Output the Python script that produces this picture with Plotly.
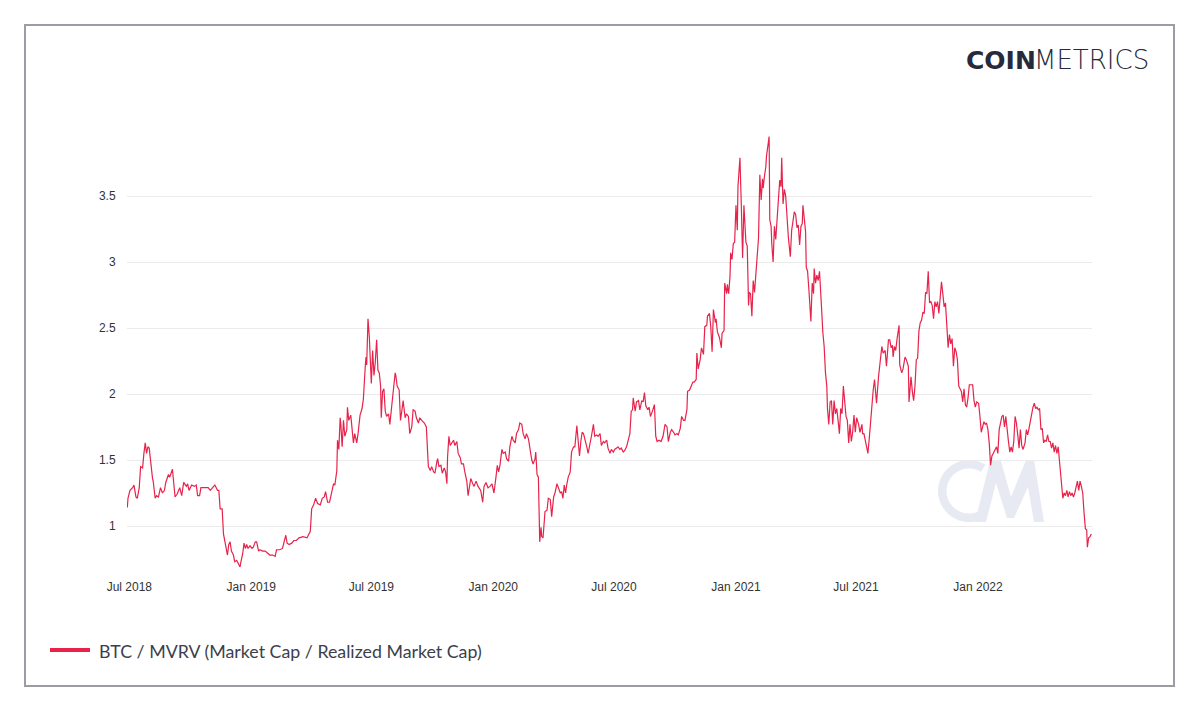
import math
import pandas as pd
import plotly.graph_objects as go

# ---------------- data ----------------
START = "2018-07-01"          # day 0 of the day offsets below
SERIES_NAME = "BTC / MVRV (Market Cap / Realized Market Cap)"

# Jul 2018 - Mar 2019
days_a = [-3, -2, 1, 5, 7, 10, 12, 15, 17, 20, 22, 24, 26, 28, 30, 32, 35, 36, 39, 41,
          44, 47, 50, 53, 55, 59, 61, 65, 67, 69, 72, 76, 79, 82, 86, 88, 90, 94, 98, 101,
          103, 106, 108, 114, 119, 122, 126, 129, 133, 135, 137, 140, 142, 144, 146, 148, 150, 152, 154, 157,
          159, 162, 164, 167, 168, 171, 173, 175, 177, 179, 182, 185, 187, 190, 192, 195, 197, 201, 205, 208,
          212, 216, 220, 222, 227, 231, 233, 236, 238, 241, 245, 248, 252, 256]
mvrv_a = [1.14, 1.21, 1.27, 1.29, 1.31, 1.22, 1.21, 1.29, 1.45, 1.44, 1.55, 1.63, 1.55, 1.60, 1.59, 1.48, 1.36, 1.34, 1.21, 1.23,
          1.22, 1.29, 1.25, 1.27, 1.33, 1.39, 1.37, 1.43, 1.30, 1.22, 1.24, 1.29, 1.23, 1.33, 1.30, 1.32, 1.27, 1.31, 1.30, 1.31,
          1.23, 1.23, 1.29, 1.29, 1.29, 1.27, 1.29, 1.31, 1.27, 1.27, 1.13, 1.13, 0.94, 0.89, 0.83, 0.78, 0.86, 0.88, 0.81, 0.78,
          0.73, 0.74, 0.72, 0.69, 0.72, 0.79, 0.87, 0.83, 0.86, 0.83, 0.85, 0.83, 0.84, 0.88, 0.88, 0.81, 0.82, 0.81, 0.81, 0.80,
          0.78, 0.78, 0.77, 0.82, 0.82, 0.83, 0.87, 0.93, 0.87, 0.86, 0.87, 0.89, 0.89, 0.91]

# Mar 2019 - Dec 2019
days_b = [262, 268, 273, 275, 278, 281, 284, 288, 291, 294, 296, 299, 302, 305, 308, 310, 313, 314, 316, 318,
          319, 321, 323, 325, 328, 329, 331, 334, 338, 340, 343, 345, 348, 351, 353, 356, 357, 358, 360, 362,
          363, 365, 367, 369, 371, 373, 375, 377, 379, 380, 382, 384, 386, 388, 391, 393, 396, 398, 401, 402,
          404, 407, 409, 411, 413, 416, 418, 421, 423, 426, 428, 431, 433, 436, 438, 441, 445, 448, 449, 451,
          454, 456, 459, 461, 464, 465, 467, 470, 472, 475, 477, 479, 480, 482, 484, 486, 489, 491, 494, 496,
          499, 501, 504, 506, 509, 511, 513, 515, 518, 520]
mvrv_b = [0.92, 0.91, 0.96, 1.13, 1.16, 1.21, 1.17, 1.16, 1.21, 1.22, 1.26, 1.18, 1.18, 1.26, 1.32, 1.31, 1.42, 1.65, 1.58, 1.82,
          1.77, 1.60, 1.80, 1.68, 1.73, 1.90, 1.80, 1.84, 1.63, 1.70, 1.63, 1.70, 1.84, 1.89, 1.96, 2.22, 2.28, 2.22, 2.57, 2.43,
          2.26, 2.08, 2.33, 2.14, 2.24, 2.41, 2.18, 2.16, 2.06, 1.82, 2.02, 2.04, 1.87, 1.83, 1.85, 1.77, 1.92, 2.02, 2.16, 2.14,
          2.06, 2.03, 1.80, 1.87, 1.95, 1.82, 1.85, 1.83, 1.70, 1.75, 1.88, 1.87, 1.82, 1.78, 1.82, 1.80, 1.78, 1.75, 1.60, 1.45,
          1.42, 1.45, 1.41, 1.40, 1.49, 1.51, 1.45, 1.46, 1.40, 1.44, 1.41, 1.32, 1.52, 1.68, 1.61, 1.63, 1.65, 1.61, 1.64, 1.55,
          1.52, 1.47, 1.47, 1.41, 1.34, 1.23, 1.30, 1.36, 1.32, 1.30]

# Dec 2019 - Dec 2020
days_c = [523, 526, 530, 533, 535, 538, 541, 544, 547, 550, 553, 555, 557, 559, 562, 564, 567, 569, 572, 574,
          577, 579, 582, 584, 587, 589, 592, 594, 597, 599, 602, 604, 607, 609, 612, 613, 615, 617, 618, 619,
          621, 622, 624, 627, 630, 632, 635, 637, 640, 642, 645, 647, 650, 652, 654, 656, 658, 660, 662, 665,
          667, 670, 672, 675, 677, 679, 681, 683, 685, 688, 690, 692, 695, 697, 700, 702, 705, 707, 710, 712,
          715, 717, 720, 722, 725, 727, 730, 732, 735, 737, 740, 742, 745, 747, 750, 752, 755, 757, 759, 760,
          763, 765, 768, 770, 773, 775, 777, 779, 782, 784, 786, 789, 792, 794, 796, 799, 802, 805, 808, 811,
          813, 816, 818, 821, 823, 826, 828, 831, 833, 836, 838, 841, 842, 845, 847, 850, 852, 855, 856, 858,
          861, 863, 866, 868, 871, 872, 875, 877, 879, 881, 884, 885, 887, 890, 893, 894, 897]
mvrv_c = [1.34, 1.30, 1.27, 1.18, 1.30, 1.33, 1.29, 1.30, 1.32, 1.25, 1.37, 1.46, 1.41, 1.46, 1.58, 1.55, 1.56, 1.51, 1.49, 1.60,
          1.68, 1.65, 1.63, 1.70, 1.73, 1.78, 1.77, 1.70, 1.66, 1.70, 1.66, 1.58, 1.50, 1.47, 1.51, 1.56, 1.39, 1.37, 1.20, 0.88,
          0.99, 0.92, 0.91, 1.11, 1.12, 1.21, 1.20, 1.07, 1.22, 1.25, 1.32, 1.29, 1.25, 1.26, 1.21, 1.31, 1.25, 1.32, 1.37, 1.41,
          1.56, 1.60, 1.60, 1.76, 1.63, 1.53, 1.64, 1.71, 1.70, 1.65, 1.60, 1.55, 1.65, 1.68, 1.77, 1.68, 1.69, 1.68, 1.70, 1.61,
          1.64, 1.63, 1.65, 1.59, 1.55, 1.58, 1.56, 1.58, 1.59, 1.60, 1.58, 1.59, 1.56, 1.57, 1.60, 1.64, 1.70, 1.87, 1.88, 1.97,
          1.87, 1.94, 1.95, 1.88, 1.95, 1.94, 2.01, 1.91, 1.88, 1.90, 1.83, 1.87, 1.92, 1.68, 1.64, 1.65, 1.64, 1.68, 1.77, 1.75,
          1.64, 1.71, 1.73, 1.71, 1.69, 1.70, 1.69, 1.74, 1.83, 1.80, 1.80, 1.88, 2.02, 2.03, 2.06, 2.09, 2.09, 2.11, 2.31, 2.19,
          2.26, 2.35, 2.30, 2.51, 2.52, 2.59, 2.61, 2.51, 2.32, 2.64, 2.54, 2.57, 2.47, 2.43, 2.35, 2.46, 2.48]

# Dec 2020 - Aug 2021
days_d = [898, 901, 902, 904, 906, 907, 909, 911, 913, 915, 917, 918, 921, 923, 925, 927, 929, 930, 932, 934,
          935, 937, 939, 941, 943, 945, 947, 949, 951, 953, 955, 956, 958, 960, 961, 963, 965, 966, 968, 969,
          971, 973, 975, 977, 979, 981, 983, 984, 986, 988, 990, 992, 994, 997, 999, 1001, 1003, 1005, 1007, 1009,
          1011, 1013, 1015, 1016, 1018, 1020, 1021, 1023, 1025, 1027, 1028, 1030, 1032, 1033, 1035, 1037, 1039, 1041, 1043, 1044,
          1046, 1048, 1050, 1052, 1053, 1055, 1057, 1059, 1061, 1063, 1065, 1067, 1069, 1071, 1073, 1075, 1077, 1079, 1081, 1083,
          1085, 1087, 1089, 1091, 1093, 1095, 1097, 1100, 1102, 1105, 1106, 1108, 1110, 1112, 1114, 1116, 1118, 1120, 1122, 1124,
          1125, 1127, 1130, 1132]
mvrv_d = [2.84, 2.76, 2.83, 2.76, 2.89, 3.07, 3.02, 3.14, 3.15, 3.43, 3.24, 3.57, 3.79, 3.44, 3.03, 3.43, 3.22, 3.15, 3.12, 2.67,
          2.77, 2.76, 2.59, 2.86, 2.77, 2.93, 3.09, 3.18, 3.66, 3.47, 3.63, 3.56, 3.65, 3.72, 3.80, 3.89, 3.95, 3.32, 3.27, 3.14,
          3.00, 3.27, 3.17, 3.32, 3.44, 3.62, 3.57, 3.79, 3.44, 3.55, 3.50, 3.34, 3.19, 3.04, 3.24, 3.31, 3.38, 3.36, 3.26, 3.28,
          3.13, 3.27, 3.29, 3.43, 3.33, 3.23, 2.96, 2.93, 2.79, 2.64, 2.55, 2.84, 2.76, 2.95, 2.84, 2.90, 2.86, 2.93, 2.79, 2.66,
          2.47, 2.36, 2.16, 2.06, 1.89, 1.77, 1.94, 1.95, 1.77, 1.95, 1.85, 1.89, 1.80, 1.70, 1.89, 1.85, 2.06, 1.90, 1.83, 1.80,
          1.63, 1.77, 1.64, 1.71, 1.84, 1.71, 1.82, 1.77, 1.71, 1.77, 1.70, 1.70, 1.64, 1.61, 1.55, 1.66, 1.80, 1.95, 2.03, 2.11,
          2.03, 1.93, 2.13, 2.22]

# Aug 2021 - Jun 2022
days_e = [1135, 1137, 1140, 1142, 1145, 1147, 1149, 1151, 1152, 1154, 1156, 1158, 1161, 1162, 1165, 1167, 1170, 1172, 1175, 1176,
          1179, 1181, 1183, 1185, 1187, 1189, 1191, 1193, 1195, 1197, 1199, 1201, 1203, 1205, 1207, 1209, 1211, 1213, 1215, 1217,
          1219, 1221, 1223, 1225, 1227, 1229, 1231, 1233, 1235, 1237, 1239, 1241, 1243, 1245, 1247, 1249, 1251, 1253, 1255, 1257,
          1259, 1261, 1263, 1265, 1267, 1269, 1272, 1274, 1276, 1278, 1281, 1283, 1285, 1287, 1289, 1291, 1293, 1295, 1297, 1299,
          1301, 1303, 1306, 1308, 1310, 1312, 1314, 1316, 1318, 1320, 1322, 1324, 1326, 1328, 1330, 1332, 1334, 1336, 1338, 1340,
          1342, 1344, 1346, 1348, 1351, 1353, 1355, 1357, 1359, 1361, 1363, 1365, 1367, 1369, 1371, 1373, 1375, 1377, 1379, 1381,
          1383, 1385, 1387, 1389, 1391, 1393, 1395, 1397, 1399, 1401, 1403, 1405, 1408, 1410, 1412, 1414, 1416, 1418, 1420, 1422,
          1424, 1426, 1428, 1430, 1432, 1434, 1436, 1438, 1440, 1442, 1444, 1445, 1447, 1449, 1451]
mvrv_e = [2.36, 2.31, 2.33, 2.21, 2.41, 2.41, 2.35, 2.37, 2.28, 2.36, 2.33, 2.42, 2.52, 2.22, 2.16, 2.19, 2.28, 2.26, 2.21, 1.94,
          2.13, 2.02, 1.95, 2.06, 2.26, 2.27, 2.48, 2.54, 2.56, 2.62, 2.61, 2.77, 2.76, 2.93, 2.69, 2.70, 2.67, 2.57, 2.70, 2.66,
          2.70, 2.61, 2.71, 2.85, 2.76, 2.66, 2.69, 2.51, 2.35, 2.45, 2.38, 2.42, 2.21, 2.35, 2.32, 2.26, 2.06, 2.04, 2.02, 1.94,
          2.04, 1.92, 1.90, 1.97, 2.07, 2.07, 2.07, 1.95, 1.90, 1.94, 1.93, 1.83, 1.71, 1.75, 1.79, 1.77, 1.78, 1.73, 1.63, 1.46,
          1.53, 1.55, 1.58, 1.60, 1.55, 1.73, 1.78, 1.83, 1.84, 1.75, 1.83, 1.70, 1.64, 1.56, 1.60, 1.56, 1.64, 1.83, 1.78, 1.69,
          1.59, 1.73, 1.61, 1.58, 1.63, 1.73, 1.69, 1.74, 1.80, 1.83, 1.90, 1.93, 1.89, 1.90, 1.88, 1.89, 1.73, 1.74, 1.63, 1.65,
          1.64, 1.69, 1.64, 1.64, 1.59, 1.63, 1.56, 1.61, 1.55, 1.60, 1.49, 1.37, 1.21, 1.25, 1.23, 1.27, 1.22, 1.26, 1.23, 1.25,
          1.22, 1.25, 1.29, 1.34, 1.27, 1.34, 1.30, 1.25, 1.10, 0.98, 0.97, 0.84, 0.91, 0.92, 0.94]

y_ticks = [1, 1.5, 2, 2.5, 3, 3.5]

days = days_a + days_b + days_c + days_d + days_e
mvrv = mvrv_a + mvrv_b + mvrv_c + mvrv_d + mvrv_e
if len(days) != len(mvrv):
    raise ValueError(f"length mismatch {len(days)} vs {len(mvrv)}")
dates = pd.to_datetime(START) + pd.to_timedelta(days, unit="D")

# ---------------- layout geometry ----------------
W, H = 1200, 711
PL, PR, PT, PB = 127, 1092, 132, 570          # plot box in pixels


def px(x):
    return (x - PL) / (PR - PL)


def py(y):
    return (PB - y) / (PB - PT)


RED = "#e8234b"
TICK_FONT = dict(family="Liberation Sans, Arial, sans-serif", size=12, color="#333333")
WM = "#e7eaf2"

fig = go.Figure()
fig.add_trace(go.Scatter(
    x=dates, y=mvrv, mode="lines", name=SERIES_NAME,
    line=dict(color=RED, width=1.2), showlegend=False,
    hovertemplate="%{x|%b %d, %Y}<br>%{y:.2f}<extra></extra>",
))

shapes = []
# outer frame
shapes.append(dict(type="rect", xref="paper", yref="paper",
                   x0=px(25), x1=px(1174), y0=py(686), y1=py(25),
                   line=dict(color="#9b9ca4", width=2), fillcolor="rgba(0,0,0,0)", layer="below"))
# legend swatch
shapes.append(dict(type="line", xref="paper", yref="paper",
                   x0=px(50), x1=px(90), y0=py(650), y1=py(650),
                   line=dict(color=RED, width=4)))

# watermark "C" ring
cx, cy, ro, ri = 969, 491, 31, 22.5
outer = [(cx + ro * math.cos(math.radians(a)), cy - ro * math.sin(math.radians(a))) for a in range(58, 303, 4)]
inner = [(cx + ri * math.cos(math.radians(a)), cy - ri * math.sin(math.radians(a))) for a in range(302, 57, -4)]
pts = outer + inner
path_c = "M " + " L ".join(f"{px(x):.5f},{py(y):.5f}" for x, y in pts) + " Z"
shapes.append(dict(type="path", xref="paper", yref="paper", path=path_c,
                   fillcolor=WM, line=dict(width=0), layer="below"))
# watermark "M"
m_pts = [(975, 522), (990, 461), (1001, 461), (1011, 497), (1026, 460), (1034, 460),
         (1044, 522), (1034, 522), (1028, 487), (1014, 518), (1007, 518), (996, 483), (986, 522)]
path_m = "M " + " L ".join(f"{px(x):.5f},{py(y):.5f}" for x, y in m_pts) + " Z"
shapes.append(dict(type="path", xref="paper", yref="paper", path=path_m,
                   fillcolor=WM, line=dict(width=0), layer="below"))

annotations = [
    dict(xref="paper", yref="paper", x=px(97), y=py(651), xanchor="left", yanchor="middle",
         text=SERIES_NAME, showarrow=False,
         font=dict(family="Lato, sans-serif", size=17.8, color="#3c3f4b")),
    dict(xref="paper", yref="paper", x=px(1038), y=py(60), xanchor="right", yanchor="middle",
         text="COIN", showarrow=False,
         font=dict(family="DejaVu Sans, sans-serif", size=25, color="#262a3a", weight=700)),
    dict(xref="paper", yref="paper", x=px(1032), y=py(60), xanchor="left", yanchor="middle",
         text="METRICS", showarrow=False,
         font=dict(family="DejaVu Sans, sans-serif", size=26, color="#262a3a", weight=200)),
]

y_lo = 1 - (PB - 526) / 132
y_hi = 1 + (526 - PT) / 132

fig.update_layout(
    width=W, height=H,
    margin=dict(l=PL, r=W - PR, t=PT, b=H - PB, pad=0),
    paper_bgcolor="white", plot_bgcolor="white",
    shapes=shapes, annotations=annotations,
    showlegend=False,
    xaxis=dict(type="date", range=["2018-06-27 12:00", "2022-06-22"],
               dtick="M6", tick0="2018-07-01", tickformat="%b %Y",
               showgrid=False, zeroline=False, showline=False,
               ticks="outside", ticklen=6, tickcolor="rgba(0,0,0,0)",
               tickfont=TICK_FONT),
    yaxis=dict(range=[y_lo, y_hi], tickvals=y_ticks,
               ticktext=[f"{v:g}" for v in y_ticks],
               showgrid=True, gridcolor="#ebebeb", gridwidth=1,
               zeroline=False, showline=False,
               ticks="outside", ticklen=8, tickcolor="rgba(0,0,0,0)",
               tickfont=TICK_FONT),
    hovermode="x",
)

fig.write_html("out.html", config={"displayModeBar": False},
               post_script="document.body.style.margin='0';")
